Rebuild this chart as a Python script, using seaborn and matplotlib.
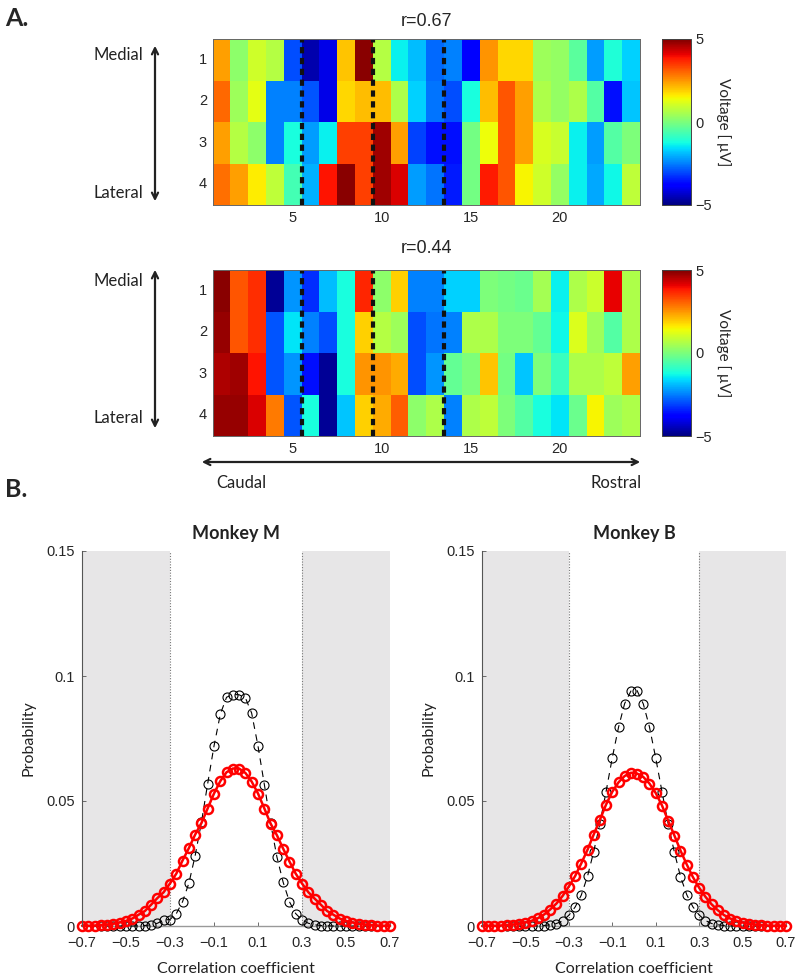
import numpy as np
import pandas as pd
import matplotlib
matplotlib.use("Agg")
import matplotlib.pyplot as plt
from matplotlib.patches import FancyArrowPatch
import seaborn as sns

# ---------------- data ----------------
rows = ["1", "2", "3", "4"]
cols = [str(i) for i in range(1, 25)]

hm1_row1 = [2.4, 0.2, 1.0, 0.7, -3.0, -4.6, -4.1, 2.0, 4.9, 0.7, -1.4, -1.9, -2.7, -2.5, -3.9, 2.5, 1.8, 1.8, 0.4, 0.3, -0.4, -2.2, -1.1, -1.7]
hm1_row2 = [3.0, 0.4, 1.25, -2.5, -2.5, -2.9, -4.1, 1.8, 2.1, 2.1, 0.6, -1.7, -2.6, -3.0, -1.2, 2.1, 3.2, 2.4, 0.6, 0.3, 0.6, -0.5, -3.6, -1.8]
hm1_row3 = [2.4, 0.7, 0.2, -2.5, -1.2, -2.2, -1.4, 3.4, 3.4, 4.7, 2.4, -3.1, -3.6, -3.6, -0.1, 1.4, 3.2, 2.4, 1.1, 0.9, -1.4, -2.2, -0.5, 0.0]
hm1_row4 = [2.9, 2.4, 1.6, 0.8, -0.7, -2.0, 3.9, 4.9, 3.4, 4.7, 4.2, -2.2, -2.6, -3.5, -0.1, 3.8, 3.2, 1.5, 1.0, 0.3, -1.4, -2.1, -1.3, 0.8]

hm2_row1 = [4.9, 3.2, 3.6, -4.8, -2.3, -3.3, -1.9, -1.2, 3.7, 0.2, 1.9, -2.5, -2.5, -1.7, -1.7, 0.0, -0.1, -0.2, 0.5, -1.4, 0.6, 0.95, 4.1, 0.6]
hm2_row2 = [4.8, 3.2, 3.6, -2.9, -1.5, -2.5, -3.0, -1.2, 1.9, 0.7, 0.4, -3.0, -2.6, -2.5, 0.6, 0.6, 0.0, 0.0, -0.3, -1.3, 1.15, 0.4, -0.5, 0.6]
hm2_row3 = [4.6, 4.7, 3.9, -2.9, -2.3, -3.6, -4.8, -1.2, 2.5, 2.5, 2.3, -3.0, -2.3, -0.3, 0.0, 2.0, -0.1, -1.8, 0.0, -0.8, 0.6, 0.6, 0.8, 2.4]
hm2_row4 = [4.8, 4.8, 4.2, 2.8, -2.9, -1.2, -4.8, -1.8, 1.9, 2.3, 3.1, 0.2, 0.6, -2.5, 0.6, 0.8, 0.0, -0.5, -1.2, -1.5, -0.2, 1.5, 0.4, 0.6]

boundaries = [5.5, 9.5, 13.5]          # electrode-group borders (1-based column coords)
titles_top = ["r=0.67", "r=0.44"]

corr_bins = [-0.700, -0.671, -0.643, -0.614, -0.586, -0.557, -0.529, -0.500, -0.471, -0.443,
             -0.414, -0.386, -0.357, -0.329, -0.300, -0.271, -0.243, -0.214, -0.186, -0.157,
             -0.129, -0.100, -0.071, -0.043, -0.014, 0.014, 0.043, 0.071, 0.100, 0.129,
             0.157, 0.186, 0.214, 0.243, 0.271, 0.300, 0.329, 0.357, 0.386, 0.414,
             0.443, 0.471, 0.500, 0.529, 0.557, 0.586, 0.614, 0.643, 0.671, 0.700]

m_shuffled = [0.0, 0.0, 0.0, 0.0, 0.0, 0.0, 0.0, 0.0, 0.0, 0.0001,
              0.0002, 0.0005, 0.0011, 0.0024, 0.0026, 0.0050, 0.0097, 0.0172, 0.0280, 0.0415,
              0.0568, 0.0720, 0.0848, 0.0915, 0.0926, 0.0925, 0.0912, 0.0852, 0.0720, 0.0565,
              0.0413, 0.0276, 0.0176, 0.0097, 0.0050, 0.0024, 0.0011, 0.0005, 0.0002, 0.0001,
              0.0, 0.0, 0.0, 0.0, 0.0, 0.0, 0.0, 0.0, 0.0, 0.0]
m_observed = [0.0001, 0.0001, 0.0002, 0.0004, 0.0006, 0.0009, 0.0014, 0.0020, 0.0030, 0.0045,
              0.0060, 0.0085, 0.0112, 0.0135, 0.0170, 0.0210, 0.0262, 0.0312, 0.0365, 0.0412,
              0.0470, 0.0530, 0.0580, 0.0615, 0.0630, 0.0630, 0.0612, 0.0578, 0.0530, 0.0470,
              0.0410, 0.0363, 0.0310, 0.0258, 0.0210, 0.0170, 0.0135, 0.0110, 0.0085, 0.0060,
              0.0045, 0.0030, 0.0020, 0.0014, 0.0009, 0.0006, 0.0004, 0.0002, 0.0001, 0.0001]

b_shuffled = [0.0, 0.0, 0.0, 0.0, 0.0, 0.0, 0.0, 0.0, 0.0, 0.0001,
              0.0002, 0.0005, 0.0010, 0.0020, 0.0043, 0.0076, 0.0123, 0.0199, 0.0296, 0.0410,
              0.0536, 0.0673, 0.0796, 0.0890, 0.0940, 0.0942, 0.0888, 0.0797, 0.0672, 0.0537,
              0.0410, 0.0295, 0.0198, 0.0125, 0.0077, 0.0044, 0.0022, 0.0010, 0.0005, 0.0002,
              0.0001, 0.0, 0.0, 0.0, 0.0, 0.0, 0.0, 0.0, 0.0, 0.0]
b_observed = [0.0, 0.0001, 0.0001, 0.0002, 0.0004, 0.0006, 0.0009, 0.0014, 0.0021, 0.0031,
              0.0046, 0.0066, 0.0090, 0.0120, 0.0158, 0.0200, 0.0250, 0.0305, 0.0365, 0.0425,
              0.0485, 0.0537, 0.0575, 0.0600, 0.0613, 0.0610, 0.0596, 0.0570, 0.0532, 0.0482,
              0.0422, 0.0362, 0.0302, 0.0246, 0.0196, 0.0153, 0.0117, 0.0087, 0.0063, 0.0044,
              0.0030, 0.0021, 0.0014, 0.0009, 0.0006, 0.0004, 0.0002, 0.0001, 0.0001, 0.0]

x_ticks = [-0.7, -0.5, -0.3, -0.1, 0.1, 0.3, 0.5, 0.7]
y_ticks = [0, 0.05, 0.1, 0.15]
y_ticklabels = ["0", "0.05", "0.1", "0.15"]

# ---------------- style ----------------
sns.set_theme(style="white")
plt.rcParams["font.family"] = ["Liberation Sans", "DejaVu Sans"]
plt.rcParams["axes.unicode_minus"] = True
LABEL_FONT = ["Lato", "DejaVu Sans"]

W, H = 800, 977
fig = plt.figure(figsize=(W / 100, H / 100), dpi=100)


def rect(l, t, r, b):
    return [l / W, 1 - b / H, (r - l) / W, (b - t) / H]


def fxy(x, y):
    return (x / W, 1 - y / H)


def draw_heat(ax, cax, data):
    df = pd.DataFrame(data, index=rows, columns=cols)
    sns.heatmap(df, ax=ax, cbar_ax=cax, cmap="jet", vmin=-5, vmax=5,
                cbar_kws={"ticks": [-5, 0, 5]}, linewidths=0)
    ax.set_xticks([4.5, 9.5, 14.5, 19.5])
    ax.set_xticklabels(["5", "10", "15", "20"], rotation=0)
    ax.set_yticks([0.5, 1.5, 2.5, 3.5])
    ax.set_yticklabels(rows, rotation=0)
    ax.set_xlabel("")
    ax.set_ylabel("")
    for b in boundaries:
        ax.axvline(b - 0.5, color="#111111", linestyle=(0, (1.5, 1.1)), lw=3.0)
    for s in ax.spines.values():
        s.set_visible(True)
        s.set_color("#666666")
        s.set_linewidth(0.7)
    ax.tick_params(direction="in", bottom=True, left=True, top=True, right=True,
                   length=3, width=0.6, color="#444444", labelsize=10.5, pad=4)
    cb = ax.collections[0].colorbar
    cb.outline.set_visible(True)
    cb.outline.set_linewidth(0.7)
    cb.outline.set_edgecolor("#444444")
    cax.tick_params(direction="in", left=True, right=True, length=3, width=0.6,
                    labelsize=10.5, pad=3)
    cax.set_yticklabels(["\u22125", "0", "5"])
    cax.set_ylabel("Voltage [ \u03bcV]", rotation=270, labelpad=14, fontsize=11,
                   family=LABEL_FONT)


ax1 = fig.add_axes(rect(212.5, 39, 640, 205))
cax1 = fig.add_axes(rect(662, 39, 691, 205))
draw_heat(ax1, cax1, [hm1_row1, hm1_row2, hm1_row3, hm1_row4])

ax2 = fig.add_axes(rect(212.5, 270, 640, 436))
cax2 = fig.add_axes(rect(662, 270, 691, 436))
draw_heat(ax2, cax2, [hm2_row1, hm2_row2, hm2_row3, hm2_row4])

fig.text(*fxy(426, 21), titles_top[0], ha="center", va="center", fontsize=13)
fig.text(*fxy(426, 249), titles_top[1], ha="center", va="center", fontsize=13)

# panel labels
fig.text(*fxy(5, 18), "A.", fontsize=18, weight="bold", va="center", ha="left", family=LABEL_FONT)
fig.text(*fxy(5, 490), "B.", fontsize=18, weight="bold", va="center", ha="left", family=LABEL_FONT)

# medial / lateral arrows
for top, bot in [(43, 204), (267, 431)]:
    fig.add_artist(FancyArrowPatch(fxy(155, top), fxy(155, bot), transform=fig.transFigure,
                                   arrowstyle="<->", mutation_scale=11, lw=1.6, color="#222222"))
for y_med, y_lat in [(55, 193), (281, 418)]:
    fig.text(*fxy(143, y_med), "Medial", ha="right", va="center", fontsize=12, family=LABEL_FONT,
             color="#222222")
    fig.text(*fxy(143, y_lat), "Lateral", ha="right", va="center", fontsize=12, family=LABEL_FONT,
             color="#222222")

# caudal / rostral arrow
fig.add_artist(FancyArrowPatch(fxy(199, 462), fxy(643, 462), transform=fig.transFigure,
                               arrowstyle="<->", mutation_scale=11, lw=1.6, color="#222222"))
fig.text(*fxy(216, 483), "Caudal", ha="left", va="center", fontsize=12, family=LABEL_FONT,
         color="#222222")
fig.text(*fxy(642, 483), "Rostral", ha="right", va="center", fontsize=12, family=LABEL_FONT,
         color="#222222")


# ---------------- distributions ----------------
def draw_dist(ax, shuffled, observed, title):
    ax.axvspan(-0.7, -0.3, color="#e7e6e7", lw=0, zorder=0)
    ax.axvspan(0.3, 0.7, color="#e7e6e7", lw=0, zorder=0)
    for v in (-0.3, 0.3):
        ax.axvline(v, color="#777777", linestyle=(0, (1, 1.5)), lw=0.8, zorder=1)
    sns.lineplot(x=corr_bins, y=shuffled, ax=ax, color="black", errorbar=None,
                 linestyle=(0, (6, 5)), lw=0.8, marker="o", markersize=6.5,
                 markerfacecolor="none", markeredgecolor="black", markeredgewidth=0.8,
                 clip_on=False, zorder=3)
    sns.lineplot(x=corr_bins, y=observed, ax=ax, color="red", errorbar=None,
                 lw=1.8, marker="o", markersize=6.5, markerfacecolor="none",
                 markeredgecolor="red", markeredgewidth=1.8, clip_on=False, zorder=4)
    ax.set_xlim(-0.7, 0.7)
    ax.set_ylim(0, 0.15)
    ax.set_xticks(x_ticks)
    ax.set_xticklabels([f"{t:.1f}".replace("-", "\u2212") for t in x_ticks])
    ax.set_yticks(y_ticks)
    ax.set_yticklabels(y_ticklabels)
    for side in ("top", "right"):
        ax.spines[side].set_visible(False)
    ax.spines["left"].set_color("#555555")
    ax.spines["bottom"].set_color("#999999")
    ax.spines["left"].set_linewidth(0.8)
    ax.spines["bottom"].set_linewidth(1.0)
    ax.spines["left"].set_zorder(5)
    ax.tick_params(direction="in", bottom=True, left=True, length=3, width=0.6,
                   color="#555555", labelsize=10.5)
    ax.tick_params(axis="x", pad=7)
    ax.tick_params(axis="y", pad=5)
    ax.set_xlabel("Correlation coefficient", fontsize=11.5, family=LABEL_FONT,
                  labelpad=9, color="#222222")
    ax.set_ylabel("Probability", fontsize=11.5, family=LABEL_FONT, labelpad=8,
                  color="#222222")
    ax.set_title(title, fontsize=13, weight="bold", family=LABEL_FONT, pad=9,
                 color="#222222")


axM = fig.add_axes(rect(82, 551, 390, 926))
draw_dist(axM, m_shuffled, m_observed, "Monkey M")
axB = fig.add_axes(rect(482, 551, 786, 926))
draw_dist(axB, b_shuffled, b_observed, "Monkey B")

fig.savefig("out.png", dpi=100)
